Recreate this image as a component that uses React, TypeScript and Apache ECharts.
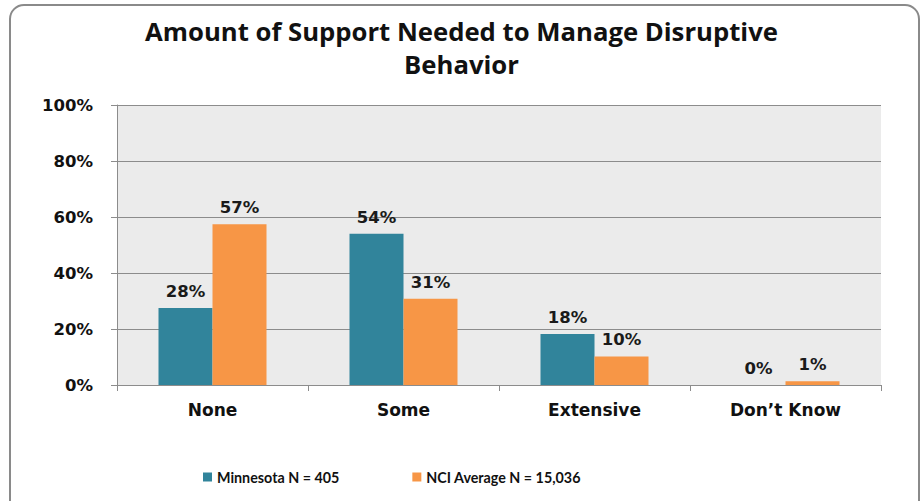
import React, { useEffect, useRef } from "react";
import * as echarts from "echarts";

const categories = ["None", "Some", "Extensive", "Don\u2019t Know"];
const minnesota = [27.5, 54.0, 18.2, 0];
const nciAverage = [57.4, 30.8, 10.2, 1.3];
const seriesNames = ["Minnesota N = 405", "NCI Average N = 15,036"];
const yTicks = [0, 20, 40, 60, 80, 100];
const titleText = "Amount of Support Needed to Manage Disruptive\nBehavior";

const AXIS_FONT = "DejaVu Sans";
const TITLE_FONT = "Open Sans";
const LEGEND_FONT = "Lato";

export default function App() {
  const ref = useRef<HTMLDivElement>(null);
  useEffect(() => {
    document.body.style.margin = "0";
    const chart = echarts.init(ref.current!, undefined, { renderer: "svg" });
    const label = {
      show: true,
      position: "top" as const,
      distance: 8,
      fontFamily: AXIS_FONT,
      fontWeight: "bold" as const,
      fontSize: 16.5,
      color: "#1a1a1a",
      formatter: (p: any) => Math.round(p.value) + "%",
    };
    chart.setOption({
      animation: false,
      backgroundColor: "#ffffff",
      graphic: [
        {
          type: "rect",
          shape: { x: 10, y: 5, width: 909, height: 520, r: 14 },
          style: { fill: "none", stroke: "#8a8a8a", lineWidth: 2 },
          z: 100,
        },
      ],
      title: {
        text: titleText,
        left: "center",
        top: 10,
        textStyle: {
          fontFamily: TITLE_FONT,
          fontWeight: "bold",
          fontSize: 25.7,
          lineHeight: 33,
          color: "#111",
        },
      },
      legend: {
        bottom: 12,
        left: 198,
        itemGap: 73,
        itemWidth: 9,
        itemHeight: 9,
        icon: "rect",
        textStyle: {
          fontFamily: LEGEND_FONT,
          fontWeight: "bold",
          fontSize: 14.3,
          color: "#111",
        },
        data: seriesNames,
      },
      grid: { left: 117, right: 42, top: 105, bottom: 116, containLabel: false },
      xAxis: {
        type: "category",
        data: categories,
        axisLine: { lineStyle: { color: "#8c8c8c", width: 1 } },
        axisTick: { show: true, length: 6, lineStyle: { color: "#8c8c8c" } },
        axisLabel: {
          fontFamily: AXIS_FONT,
          fontWeight: "bold",
          fontSize: 17,
          color: "#111",
          margin: 16,
        },
      },
      yAxis: {
        type: "value",
        min: yTicks[0],
        max: yTicks[yTicks.length - 1],
        interval: 20,
        axisLine: { show: true, lineStyle: { color: "#8c8c8c" } },
        axisTick: { show: true, length: 6, lineStyle: { color: "#8c8c8c" } },
        splitLine: { lineStyle: { color: "#8c8c8c", width: 1 } },
        splitArea: { show: true, areaStyle: { color: ["#ebebeb", "#ebebeb"] } },
        axisLabel: {
          fontFamily: AXIS_FONT,
          fontWeight: "bold",
          fontSize: 16.5,
          color: "#111",
          margin: 24,
          formatter: (v: number) => v + "%",
        },
      },
      series: [
        {
          name: seriesNames[0],
          type: "bar",
          data: minnesota,
          barWidth: 54,
          barGap: "0%",
          itemStyle: { color: "#31849b" },
          label,
        },
        {
          name: seriesNames[1],
          type: "bar",
          data: nciAverage,
          barWidth: 54,
          barGap: "0%",
          itemStyle: { color: "#f79646" },
          label,
        },
      ],
    });
    return () => chart.dispose();
  }, []);
  return <div ref={ref} style={{ width: 923, height: 501 }} />;
}
